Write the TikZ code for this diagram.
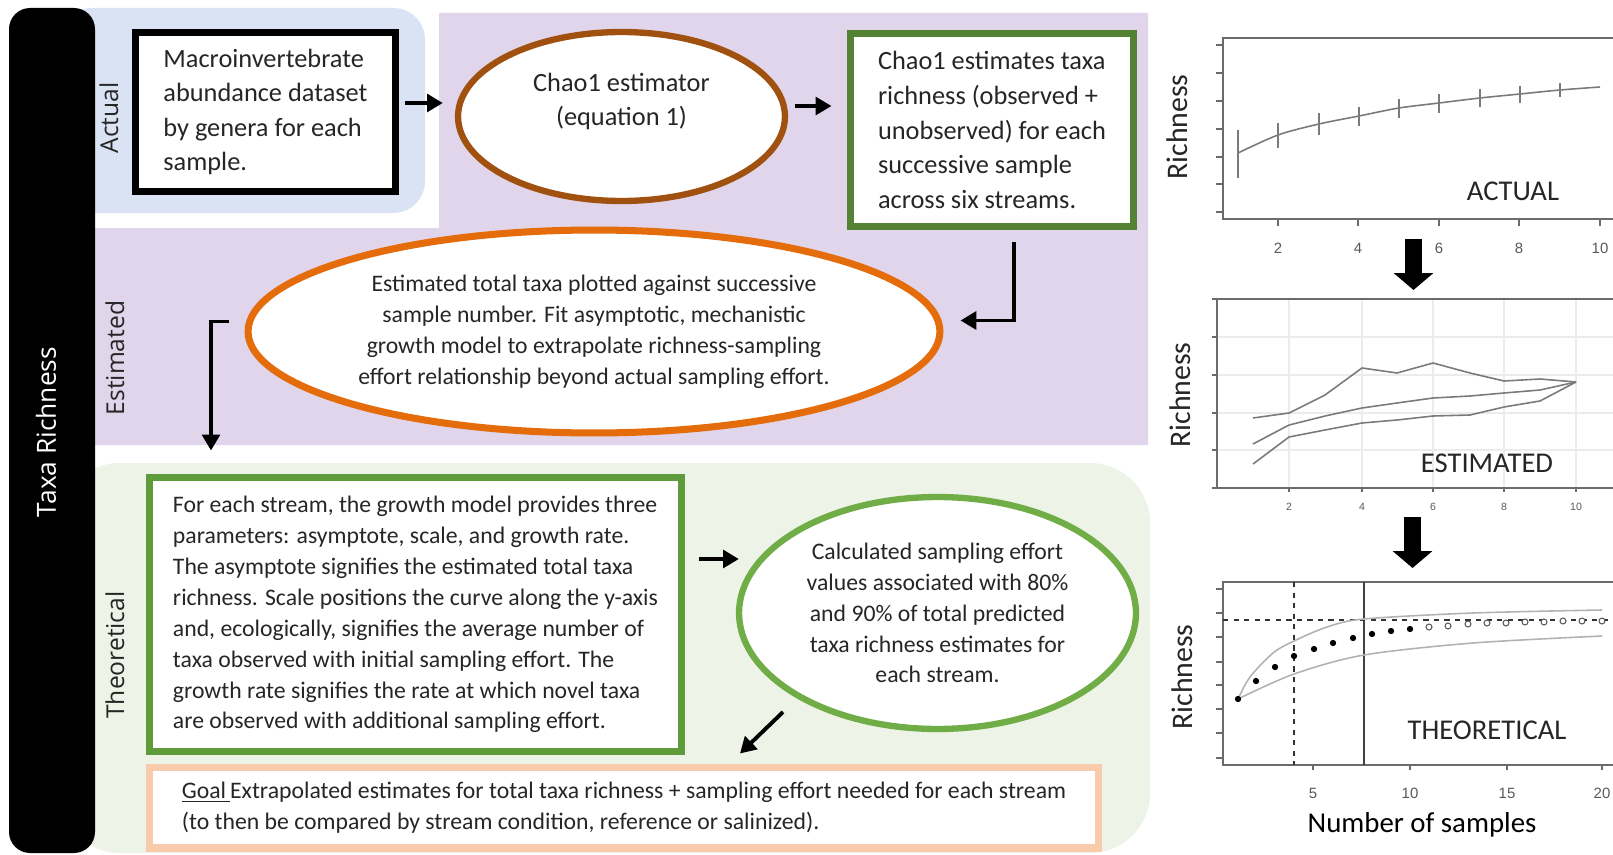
\documentclass[tikz,border=0pt]{standalone}
\usepackage{fontspec}
\setmainfont{Carlito}
\newfontfamily\labelfont{Open Sans}
\newfontfamily\tickfont{Liberation Sans}
\usetikzlibrary{arrows.meta, shapes.geometric, calc}
\definecolor{cblue}{HTML}{DAE3F3}
\definecolor{cpurple}{HTML}{E1D5EB}
\definecolor{cgreenbg}{HTML}{EDF3E7}
\definecolor{cbrown}{HTML}{A0500F}
\definecolor{cdkgreen}{HTML}{548235}
\definecolor{cgreen}{HTML}{5E9B3A}
\definecolor{cltgreen}{HTML}{70AD47}
\definecolor{corange}{HTML}{E46C0A}
\definecolor{cpeach}{HTML}{F8CBAD}
\definecolor{cgrey}{HTML}{6B6B6B}
\definecolor{ctext}{HTML}{262626}
\tikzset{
  every picture/.style={line width=1pt},
  box/.style={draw=#1, fill=white, line width=4pt, align=left, inner sep=0pt},
  oval/.style={ellipse, draw=#1, fill=white, line width=3.6pt, align=center, inner sep=0pt},
  arrow/.style={-{Triangle[length=9pt, width=10pt]}, line width=2.2pt},
  bigarrow/.style={-{Triangle[length=9.6pt, width=22pt]}, line width=9.6pt},
  region/.style={font=\labelfont\fontsize{14}{16}\selectfont, text=ctext, rotate=90},
  body/.style={font=\fontsize{13.5}{17.6}\selectfont, text=ctext},
  big/.style={font=\fontsize{15}{19.7}\selectfont, text=ctext},
  axis/.style={draw=cgrey, line width=1.1pt},
  curve/.style={draw=cgrey!90, line width=0.9pt},
  tick/.style={font=\tickfont\fontsize{8.5}{10}\selectfont, text=gray!70!black},
  plotname/.style={font=\fontsize{16.3}{19}\selectfont, text=ctext},
  ylab/.style={font=\fontsize{17}{19}\selectfont, text=ctext, rotate=90},
}

\begin{document}
\begin{tikzpicture}[x=0.02cm, y=-0.02cm]
  \useasboundingbox (0,0) rectangle (1613,855);
  % background bands
  \fill[cblue, rounded corners=18pt] (60,8) rectangle (425,213);
  \fill[cpurple] (439,13) -- (1148,13) -- (1148,445) -- (95,445) -- (95,228) -- (439,228) -- cycle;
  \fill[cgreenbg, rounded corners=34pt] (60,463) rectangle (1150,853);
  \fill[black, rounded corners=12pt] (9,8) rectangle (95,853);
  \node[rotate=90, text=white, font=\labelfont\fontsize{15}{18}\selectfont] (taxa) at (46,432) {Taxa Richness};
  \node[region] (lact) at (109,118) {Actual};
  \node[region] (lest) at (115,358) {Estimated};
  \node[region] (ltheo) at (115,655) {Theoretical};

  % actual row
  \node[box=black, big, minimum width=5.22cm, minimum height=3.2cm] (data) at (265.5,112)
    {Macroinvertebrate\\abundance dataset\\by genera for each\\sample.};
  \node[oval=cbrown, big, minimum width=6.54cm, minimum height=3.38cm] (chao) at (621.5,116.5)
    {Chao1 estimator\\(equation 1)\\\mbox{}};
  \node[box=cdkgreen, big, minimum width=5.68cm, minimum height=3.88cm] (cbox) at (992,130)
    {Chao1 estimates taxa\\richness (observed +\\unobserved) for each\\successive sample\\across six streams.};

  % estimated row
  \node[oval=corange, body, minimum width=13.84cm, minimum height=4.06cm, line width=4pt] (est) at (594,331.5)
    {Estimated total taxa plotted against successive\\sample number. Fit asymptotic, mechanistic\\growth model to extrapolate richness-sampling\\effort relationship beyond actual sampling effort.};

  % theoretical row
  \node[box=cgreen, body, minimum width=10.66cm, minimum height=5.5cm] (param) at (415.5,614.5)
    {For each stream, the growth model provides three\\parameters: asymptote, scale, and growth rate.\\The asymptote signifies the estimated total taxa\\richness. Scale positions the curve along the y-axis\\and, ecologically, signifies the average number of\\taxa observed with initial sampling effort. The\\growth rate signifies the rate at which novel taxa\\are observed with additional sampling effort.};
  \node[oval=cltgreen, body, minimum width=7.94cm, minimum height=4.64cm] (calc) at (937.5,613)
    {Calculated sampling effort\\values associated with 80\%\\and 90\% of total predicted\\taxa richness estimates for\\each stream.};
  \node[box=cpeach, body, minimum width=19cm, minimum height=1.62cm] (goal) at (624,807.5)
    {\underline{Goal\,}Extrapolated estimates for total taxa richness + sampling effort needed for each stream\\(to then be compared by stream condition, reference or salinized).};

  % flow arrows
  \draw[arrow] ($(data.east)+(6,-9)$) -- ($(chao.west)+(-12,-13.5)$);
  \draw[arrow] ($(chao.east)+(7,-10.5)$) -- ($(cbox.west)+(-15,-24)$);
  \draw[arrow] ($(cbox.south)+(22,12)$) |- ($(est.east)+(17,-11)$);
  \draw[arrow] ($(est.west)+(-16,-10)$) -| ($(param.north)+(-204.5,-23)$);
  \draw[arrow] ($(param.east)+(14,-55.5)$) -- ($(calc.west)+(3,-54)$);
  \draw[arrow] ($(calc.center)+(-154.5,99)$) -- ($(goal.north)+(116,-10)$);

  % plot: actual
  \draw[axis] (1613,38) -- (1223,38) -- (1223,219) -- (1613,219);
  \foreach \y in {45,73,101,129,157,184,212} \draw[axis] (1216,\y) -- (1223,\y);
  \foreach \x/\v in {1278/2,1358/4,1439/6,1519/8,1600/10} {
    \draw[axis] (\x,219) -- (\x,226);
    \node[tick] (ta\v) at (\x,248) {\v};
  }
  \draw[curve] plot[smooth] coordinates {(1238,153) (1278,135) (1319,124) (1359,116) (1399,108) (1439,103) (1480,98) (1520,94) (1560,90) (1600,87)};
  \foreach \x/\lo/\hi in {1238/130/178, 1278/123/148, 1319/113/135, 1359/107/126, 1399/99/118, 1439/94/113, 1480/89/107, 1520/86/103, 1560/83/97}
    \draw[curve] (\x,\lo) -- (\x,\hi);
  \node[plotname] (tact) at (1513,191) {ACTUAL};
  \node[ylab] (yact) at (1177,127) {Richness};
  \coordinate (act-s) at (1413.5,239);
  \coordinate (est-n) at (1413.5,290);
  \draw[bigarrow] (act-s) -- (est-n);

  % plot: estimated
  \foreach \y in {337,375,413,450} \draw[gray!15, line width=0.8pt] (1217,\y) -- (1613,\y);
  \foreach \x in {1289,1362,1433,1504,1576} \draw[gray!15, line width=0.8pt] (\x,299) -- (\x,488);
  \draw[axis] (1613,299) -- (1217,299) -- (1217,488) -- (1613,488);
  \foreach \y in {299,337,375,413,450,488} \draw[axis] (1212,\y) -- (1217,\y);
  \foreach \x/\v in {1289/2,1362/4,1433/6,1504/8,1576/10} {
    \draw[axis] (\x,488) -- (\x,492);
    \node[tick, font=\tickfont\fontsize{6}{7}\selectfont] (te\v) at (\x,507) {\v};
  }
  \draw[curve] (1253,418) -- (1289,413) -- (1325,395) -- (1362,368) -- (1397,373) -- (1433,363) -- (1470,373) -- (1504,381) -- (1540,379) -- (1576,382);
  \draw[curve] (1253,444) -- (1289,425) -- (1325,416) -- (1362,408) -- (1397,403) -- (1433,398) -- (1470,396) -- (1504,393) -- (1540,390) -- (1576,382);
  \draw[curve] (1253,464) -- (1289,437) -- (1325,430) -- (1362,423) -- (1397,420) -- (1433,416) -- (1470,415) -- (1504,407) -- (1540,401) -- (1576,382);
  \node[plotname] (test) at (1487,463) {ESTIMATED};
  \node[ylab] (yest) at (1180,395) {Richness};
  \coordinate (est-s) at (1412.5,517);
  \coordinate (theo-n) at (1412.5,568);
  \draw[bigarrow] (est-s) -- (theo-n);

  % plot: theoretical
  \draw[axis] (1613,582) -- (1223,582) -- (1223,765) -- (1613,765);
  \foreach \y in {589,613,637,662,685,709,733,758} \draw[axis] (1216,\y) -- (1223,\y);
  \foreach \x/\v in {1313/5,1410/10,1507/15,1602/20} {
    \draw[axis] (\x,765) -- (\x,770);
    \node[tick] (tt\v) at (\x,793) {\v};
  }
  \draw[black!80, dashed, line width=1.1pt] (1294,582) -- (1294,765);
  \draw[black!75, line width=1.4pt] (1364,582) -- (1364,765);
  \draw[black!80, dashed, line width=1.1pt] (1223,620) -- (1613,620);
  \draw[gray!60, line width=0.9pt] plot[smooth] coordinates {(1238,699) (1250,677) (1273,653) (1294,641) (1327,627) (1364,619) (1473,613) (1602,610)};
  \draw[gray!60, line width=0.9pt] plot[smooth] coordinates {(1238,699) (1294,674) (1364,655) (1473,643) (1602,636)};
  \foreach \x/\y in {1238/699, 1256/681, 1275/667, 1294/656, 1314/649, 1333/643, 1353/638, 1372/634, 1391/631, 1410/629}
    \fill[black] (\x,\y) circle (1.8pt);
  \foreach \x/\y in {1429/627, 1448/626, 1468/624, 1487/623, 1506/623, 1525/622, 1544/622, 1563/621, 1582/621, 1602/621}
    \draw[gray!70!black, line width=0.6pt, fill=white] (\x,\y) circle (1.7pt);
  \node[plotname] (ttheo) at (1487,730) {THEORETICAL};
  \node[ylab] (ytheo) at (1182,677) {Richness};
  \node[font=\fontsize{16.4}{19}\selectfont, text=black] (xlab) at (1422,825) {Number of samples};
\end{tikzpicture}
\end{document}
